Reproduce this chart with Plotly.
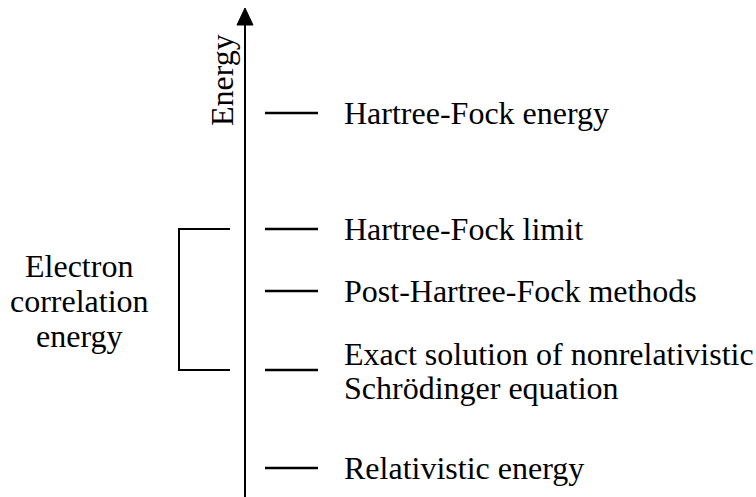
import plotly.graph_objects as go

# Schematic energy levels (arbitrary energy units, higher = higher energy)
level_labels = [
    ["Hartree-Fock energy"],
    ["Hartree-Fock limit"],
    ["Post-Hartree-Fock methods"],
    ["Exact solution of nonrelativistic", "Schrödinger equation"],
    ["Relativistic energy"],
]
level_energy = [384, 268, 206, 127, 29]

axis_label = "Energy"
bracket_label = ["Electron", "correlation", "energy"]
bracket_top_energy = 268
bracket_bottom_energy = 127

W, H = 756, 497
FONT = "Liberation Serif"
FS = 32

fig = go.Figure()

# level bars
xs, ys = [], []
for e in level_energy:
    xs += [265, 318, None]
    ys += [e, e, None]
fig.add_trace(go.Scatter(x=xs, y=ys, mode="lines",
                         line=dict(color="black", width=2.4),
                         hoverinfo="skip", showlegend=False))

# energy axis line
fig.add_trace(go.Scatter(x=[245, 245], y=[0, 474], mode="lines",
                         line=dict(color="black", width=2),
                         hoverinfo="skip", showlegend=False))
# arrow head
fig.add_trace(go.Scatter(x=[237, 253, 245, 237], y=[472, 472, 489, 472],
                         mode="lines", fill="toself", fillcolor="black",
                         line=dict(color="black", width=1),
                         hoverinfo="skip", showlegend=False))

# bracket
fig.add_trace(go.Scatter(
    x=[230, 179, 179, 230],
    y=[bracket_top_energy, bracket_top_energy, bracket_bottom_energy, bracket_bottom_energy],
    mode="lines", line=dict(color="black", width=2),
    hoverinfo="skip", showlegend=False))

annotations = []
for lines, e in zip(level_labels, level_energy):
    if len(lines) == 1:
        offs = [0]
    else:
        offs = [16, -18]
    for t, o in zip(lines, offs):
        annotations.append(dict(x=342, y=e + o, text=t, showarrow=False,
                                xanchor="left", yanchor="middle",
                                font=dict(family=FONT, size=FS, color="black")))

mid = (bracket_top_energy + bracket_bottom_energy) / 2
for t, o in zip(bracket_label, [34, -1, -36]):
    annotations.append(dict(x=79, y=mid + o, text=t, showarrow=False,
                            xanchor="center", yanchor="middle",
                            font=dict(family=FONT, size=FS, color="black")))

annotations.append(dict(x=222, y=417, text=axis_label, showarrow=False,
                        textangle=-90, xanchor="center", yanchor="middle",
                        font=dict(family=FONT, size=FS, color="black")))

fig.update_layout(
    width=W, height=H,
    margin=dict(l=0, r=0, t=0, b=0),
    paper_bgcolor="white", plot_bgcolor="white",
    font=dict(family=FONT),
    xaxis=dict(range=[0, W], visible=False, fixedrange=True),
    yaxis=dict(range=[0, H], visible=False, fixedrange=True),
    annotations=annotations,
    showlegend=False,
)

fig.write_html("out.html", config={"displayModeBar": False},
               post_script="document.body.style.margin='0px';")
